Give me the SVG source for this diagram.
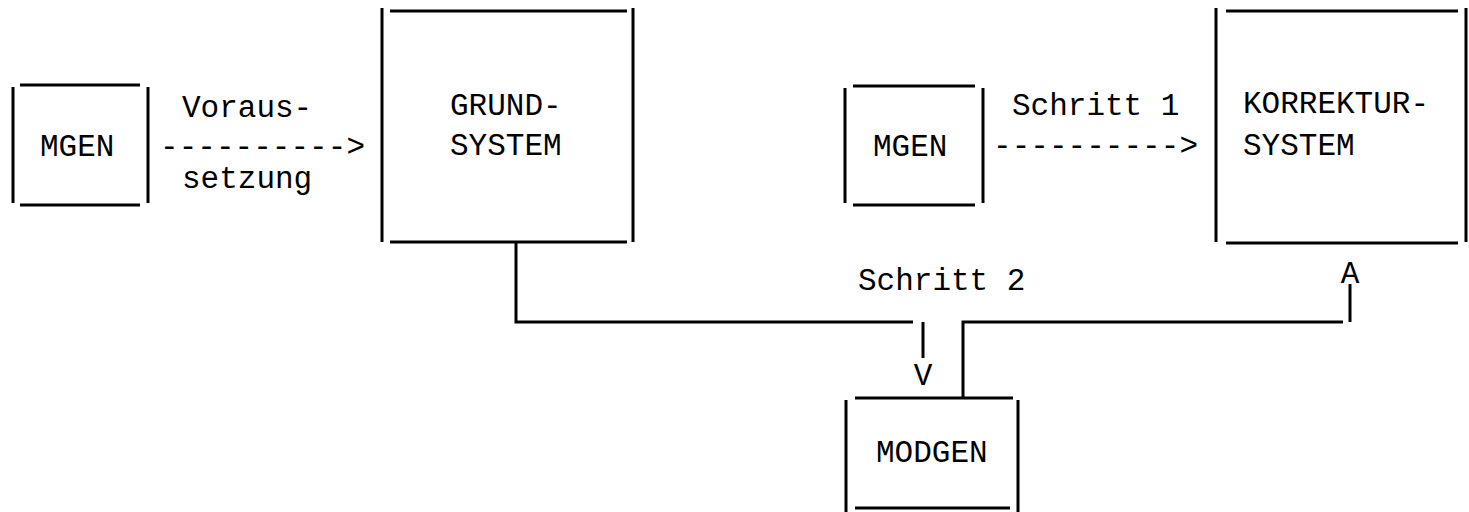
<svg xmlns="http://www.w3.org/2000/svg" width="1469" height="512" viewBox="0 0 1469 512">
<style>
.b{stroke:#000;stroke-width:3;fill:none;stroke-linecap:butt}
.t{font-family:"Liberation Mono","DejaVu Sans Mono",monospace;font-size:31px;fill:#000}
</style>
<rect width="1469" height="512" fill="#fff"/>
<g id="mgen1">
<path class="b" d="M20 85H140M20 205H140M13 87V203M148 87V203"/>
<text class="t" x="40" y="156">MGEN</text>
</g>
<g id="grundsystem">
<path class="b" d="M390 11H627M390 242H627M382 8V242M633 8V242"/>
<text class="t" x="450" y="115">GRUND-</text>
<text class="t" x="450" y="155">SYSTEM</text>
</g>
<g id="mgen2">
<path class="b" d="M853 86H975M853 205H975M845 88V203M983 88V203"/>
<text class="t" x="873" y="156">MGEN</text>
</g>
<g id="korrektursystem">
<path class="b" d="M1226 11H1458M1226 243H1458M1216 8V242M1466 8V242"/>
<text class="t" x="1243" y="113">KORREKTUR-</text>
<text class="t" x="1243" y="155">SYSTEM</text>
</g>
<g id="modgen">
<path class="b" d="M855 398H1013M855 508H1010M846 400V512M1018 400V512"/>
<text class="t" x="876" y="462">MODGEN</text>
</g>
<g id="connectors">
<text class="t" x="160" y="156" textLength="205" lengthAdjust="spacing">----------&gt;</text>
<text class="t" x="182" y="117">Voraus-</text>
<text class="t" x="182" y="188">setzung</text>
<text class="t" x="993" y="155" textLength="205" lengthAdjust="spacing">----------&gt;</text>
<text class="t" x="1012" y="115">Schritt 1</text>
<path class="b" d="M516 242V322H913M923 322V358"/>
<text class="t" x="923" y="385" text-anchor="middle">V</text>
<path class="b" d="M963 398V322H1343M1350 322V284"/>
<text class="t" x="1350" y="283" text-anchor="middle">A</text>
<text class="t" x="858" y="290">Schritt 2</text>
</g>
</svg>
